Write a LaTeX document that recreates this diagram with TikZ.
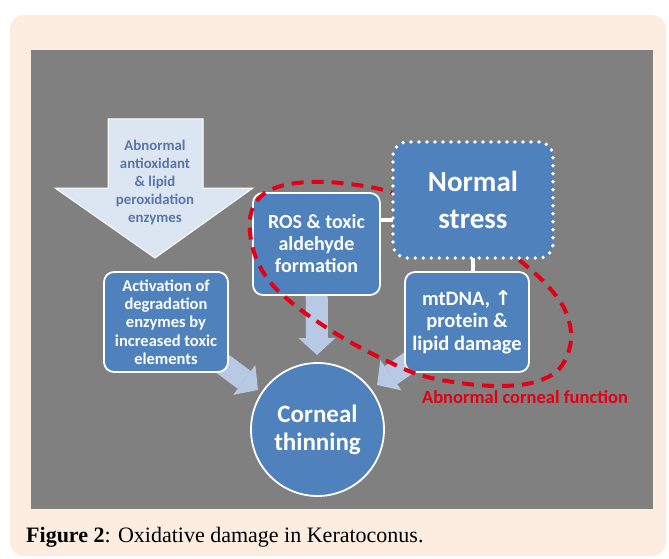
\documentclass[tikz,border=0pt]{standalone}
\usepackage{fontspec}
\setmainfont{Liberation Serif}
\newfontfamily\boxfont{Carlito}
\newfontfamily\symfont{DejaVu Sans}
\usepackage{tikz}
\usetikzlibrary{arrows.meta,calc}

\definecolor{panel}{RGB}{253,237,224}
\definecolor{slide}{RGB}{128,128,128}
\definecolor{boxblue}{RGB}{79,129,189}
\definecolor{paleblue}{RGB}{220,230,242}
\definecolor{fatblue}{RGB}{184,201,228}
\definecolor{textblue}{RGB}{88,118,168}
\definecolor{loopred}{RGB}{228,0,20}

\tikzset{
  bluebox/.style={draw=white, line width=1.8pt, fill=boxblue, rounded corners=10pt,
    text=white, align=center, inner sep=0pt, font=\boxfont\bfseries},
  fatarrow/.style={draw=fatblue, line width=22pt,
    -{Triangle[width=37pt,length=17pt,line width=0pt]}},
  link/.style={draw=white, line width=4pt},
  redloop/.style={draw=loopred, line width=4pt, dash pattern=on 12pt off 8pt}
}

\begin{document}
\begin{tikzpicture}[x=1pt, y=-1pt]
\useasboundingbox (0,0) rectangle (669,559);
%%%%% Background %%%%%
\fill[panel, rounded corners=14pt] (10,15) rectangle (666,556);
\fill[slide] (31,50) rectangle (653,509);

%%%%% Big arrow %%%%%
\draw[fill=paleblue, draw=white, line width=1pt]
  (108,119) -- (203,119) -- (203,188) -- (253,188) -- (155,258)
  -- (55,188) -- (108,188) -- cycle;
\node[text=textblue, align=center, font=\boxfont\bfseries\fontsize{14.8}{18}\selectfont]
  (abn) at (155,182) {Abnormal\\antioxidant\\\& lipid\\peroxidation\\enzymes};

%%%%% Node places %%%%%
\coordinate (ros-c) at (316.5,244);
\coordinate (act-c) at (166,322);
\coordinate (mt-c) at (467,322);
\coordinate (tipA) at (258,390);
\coordinate (tipB) at (377,385);

%%%%% Fat arrows %%%%%
\draw[fatarrow] (act-c) -- (tipA);
\draw[fatarrow] (mt-c) -- (tipB);
\draw[fatarrow] (ros-c) -- (317,355);

%%%%% Boxes %%%%%
\node[bluebox, minimum width=127pt, minimum height=102pt,
  font=\boxfont\bfseries\fontsize{20}{22}\selectfont]
  (ros) at (ros-c) {ROS \& toxic\\aldehyde\\formation};
\node[bluebox, minimum width=124pt, minimum height=100pt,
  font=\boxfont\bfseries\fontsize{16.5}{18.3}\selectfont]
  (act) at (act-c) {Activation of\\degradation\\enzymes by\\increased toxic\\elements};
\node[bluebox, minimum width=124pt, minimum height=100pt,
  font=\boxfont\bfseries\fontsize{20.5}{22.5}\selectfont]
  (mt) at (mt-c) {mtDNA, {\symfont ↑}\\protein \&\\lipid damage};
\node[bluebox, circle, minimum size=133pt,
  font=\boxfont\bfseries\fontsize{25}{28}\selectfont]
  (corneal) at (317.5,429.5) {Corneal\\thinning};

%%%%% Red loop %%%%%
\draw[redloop] plot[smooth, tension=0.6] coordinates {
  (402,196) (393,193) (370,187) (327,182) (290,184) (265,193) (252,210)
  (250,232) (256,258) (270,282) (292,303) (318,322) (350,342) (385,360)
  (420,375) (460,383) (500,386) (535,382) (560,368) (571,340) (565,310)
  (545,283) (517,258) (510,252)};
\node[text=loopred, font=\boxfont\bfseries\fontsize{18.5}{20}\selectfont]
  (abcf) at (525,397) {Abnormal corneal function};

%%%%% Normal stress %%%%%
\draw[link] ([yshift=24pt]ros.east) -- ([yshift=24pt]ros.east -| 393,0);
\draw[link] (473,258) -- (473,273);
\node[bluebox, rounded corners=14pt, minimum width=160pt, minimum height=116pt,
  line width=3.8pt, dash pattern=on 0pt off 8pt, line cap=round,
  font=\boxfont\bfseries\fontsize{29}{37}\selectfont]
  (normal) at (473,200) {Normal\\stress};

%%%%% Caption %%%%%
\node[anchor=base west, inner sep=0pt, font=\fontsize{22}{26}\selectfont]
  (cap) at (26,542) {\textbf{Figure 2}: Oxidative damage in Keratoconus.};
\end{tikzpicture}
\end{document}
